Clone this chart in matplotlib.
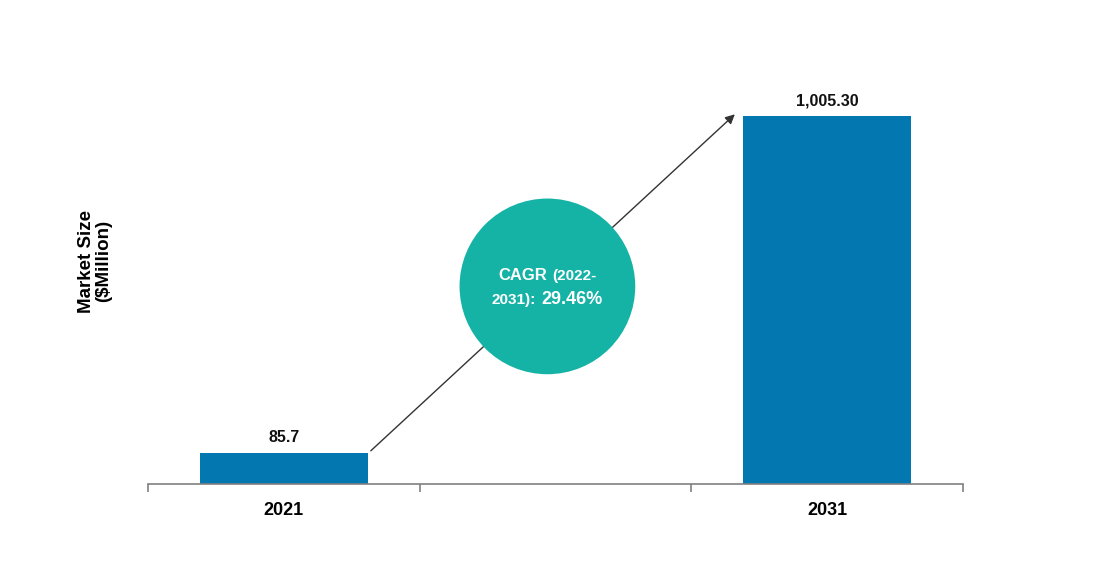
import matplotlib
matplotlib.use('Agg')
import matplotlib.pyplot as plt
from matplotlib.offsetbox import TextArea, HPacker, VPacker, AnnotationBbox

plt.rcParams['font.family'] = ['Liberation Sans', 'DejaVu Sans']

years = ['2021', '', '2031']
market_size = [85.7, None, 1005.30]
value_labels = ['85.7', '', '1,005.30']
cagr_period = '(2022-'
cagr_period2 = '2031):'
cagr_value = '29.46%'

bar_color = '#0277B0'
circle_color = '#14B3A6'

fig = plt.figure(figsize=(10.99, 5.75), dpi=100)
ax = fig.add_axes([0.1347, 0.1583, 0.7416, 0.70])

xs = [i for i, v in enumerate(market_size) if v is not None]
vals = [v for v in market_size if v is not None]
bw = 0.62
ax.bar(xs, vals, width=bw, color=bar_color, zorder=2)

for i, v in zip(xs, vals):
    ax.text(i, v + 20, value_labels[i], ha='center', va='bottom',
            fontsize=11.5, fontweight='bold', color='#111111')

ax.set_xlim(-0.5, 2.5)
ax.set_ylim(0, 1100)

ax.set_xticks([0, 2])
ax.set_xticklabels([years[0], years[2]], fontsize=13, fontweight='bold')
ax.set_xticks([-0.5, 0.5, 1.5, 2.5], minor=True)
ax.tick_params(axis='x', which='major', length=0, pad=13)
ax.tick_params(axis='x', which='minor', length=6, color='#808080', width=1.2)
ax.set_yticks([])
for s in ['top', 'right', 'left']:
    ax.spines[s].set_visible(False)
ax.spines['bottom'].set_color('#808080')
ax.spines['bottom'].set_linewidth(1.2)

# growth arrow from small bar to large bar
ax.annotate('', xy=(xs[1] - bw / 2 - 0.03, vals[1] + 5),
            xytext=(xs[0] + bw / 2 + 0.01, vals[0] + 5),
            arrowprops=dict(arrowstyle='-|>', color='#333333', lw=1,
                            mutation_scale=14, shrinkA=0, shrinkB=0),
            zorder=1)

# CAGR circle
ax.scatter([0.97], [540], s=16000, color=circle_color, zorder=3,
           edgecolors='none')

wp = dict(color='white', fontweight='bold')
line1 = HPacker(children=[TextArea('CAGR', textprops=dict(fontsize=12, **wp)),
                          TextArea(cagr_period, textprops=dict(fontsize=11, **wp))],
                pad=0, sep=4, align='baseline')
line2 = HPacker(children=[TextArea(cagr_period2, textprops=dict(fontsize=11, **wp)),
                          TextArea(cagr_value, textprops=dict(fontsize=13, **wp))],
                pad=0, sep=4, align='baseline')
box = VPacker(children=[line1, line2], pad=0, sep=6, align='center')
ab = AnnotationBbox(box, (0.97, 536), xycoords='data', frameon=False,
                    box_alignment=(0.5, 0.5), zorder=4)
ax.add_artist(ab)

fig.text(0.0865, 0.546, 'Market Size\n($Million)', rotation=90, ha='center',
         va='center', fontsize=13.5, fontweight='bold', linespacing=0.95)

fig.savefig('out.png', dpi=100)
